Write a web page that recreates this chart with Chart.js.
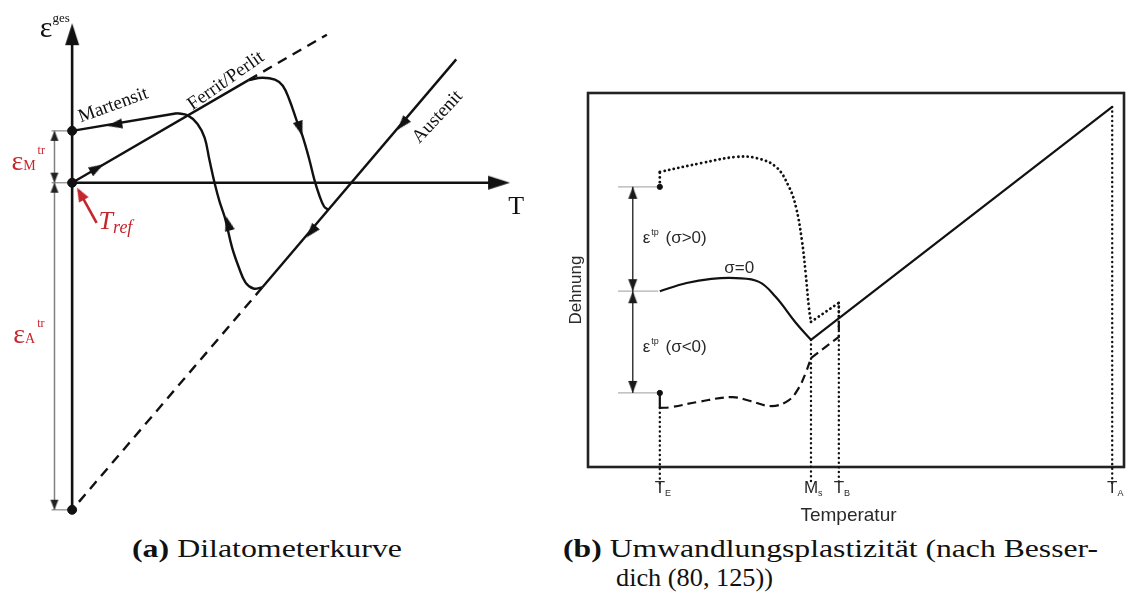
<!DOCTYPE html>
<html lang="de">
<head>
<meta charset="utf-8">
<title>Dilatometerkurve / Umwandlungsplastizität</title>
<script src="https://cdn.jsdelivr.net/npm/chart.js@4.4.1/dist/chart.umd.min.js"></script>
<style>
    html, body { margin: 0; padding: 0; background: #fff; }
    body { width: 1129px; height: 604px; position: relative; overflow: hidden; }
    #chart-a { position: absolute; left: 0; top: 0; }
    #chart-b { position: absolute; left: 550px; top: 0; }
    .caption { position: absolute; font-family: "Liberation Serif", "Times New Roman", serif; font-size: 25px; line-height: 29px;
               color: #111; white-space: nowrap; transform-origin: 0 0; }
    #cap-a { left: 132px; top: 534px; }
    #cap-b1 { left: 563px; top: 534px; }
    #cap-b2 { left: 616px; top: 563px; }
</style>
</head>
<body>
<canvas id="chart-a" width="545" height="530"></canvas>
<canvas id="chart-b" width="579" height="530"></canvas>
<div class="caption" id="cap-a"><b>(a)</b> Dilatometerkurve</div>
<div class="caption" id="cap-b1"><b>(b)</b> Umwandlungsplastizität (nach Besser-</div>
<div class="caption" id="cap-b2">dich (80, 125))</div>
<script>
// ---------- (a) Dilatometerkurve: T on x, total strain on y, T_ref at origin ----------
const ferritLine = [[0, 0], [4.5, 2.62]];
const ferritExtension = [[4.5, 2.62], [6.5, 3.78]];
const heatingCurve = [[4.5, 2.62], [4.85, 2.68], [5.175, 2.63], [5.375, 2.475], [5.55, 2.1], [5.725, 1.6],
    [5.875, 1.2], [6.05, 0.6], [6.175, 0.1], [6.3, -0.3], [6.425, -0.6], [6.53, -0.69]];
const austenitLine = [[9.8, 3.15], [4.85, -2.675]];
const austenitExtension = [[4.85, -2.675], [0, -8.35]];
const coolingCurve = [[2.675, 1.775], [2.95, 1.72], [3.2, 1.5], [3.38, 1.15], [3.5, 0.6], [3.64, -0.025],
    [3.76, -0.475], [3.9, -0.9], [4.08, -1.65], [4.25, -2.15], [4.425, -2.55], [4.625, -2.7], [4.85, -2.675]];
const martensitLine = [[2.675, 1.775], [0, 1.325]];
const strainAxisA = [[0, -8.425], [0, 3.7]];
const tempAxisA = [[0, 0], [10.8, 0]];
const axisTipsA = [[0, 4.075, 0, 1], [11.175, 0, 1, 0]];
// ε_M^tr and ε_A^tr marks on the strain axis
const epsLevelsA = [1.325, 0, -8.35];
const dimXA = -0.45;
// arrow heads along the curves: x, y, dx, dy
const flowArrows = [[0.8, 0.47, 1, 0.582], [0.9, 1.45, -1, -0.168], [5.875, 1.2, 0.325, -1.0],
    [3.925, -0.85, -0.32, 1.175], [8.3, 1.35, -1, -1.177], [5.975, -1.4, -1, -1.177]];
const trefArrow = [[0.625, -1.025], [0.17, -0.2]];
const trefTip = [[0.125, -0.125, -0.5, 0.9]];

// ---------- (b) Umwandlungsplastizität: Temperatur 0..100, Dehnung 0..100 ----------
const tempTicks = [13.4, 41.6, 46.8, 97.8];
const tempTickLabels = [['T', 'E'], ['M', 's'], ['T', 'B'], ['T', 'A']];
const tickLineTops = [15.8, 34, 43.9, 96.3];
const sigmaZeroCurve = [[13.4, 47], [18.4, 49.2], [23, 50.3], [27.6, 50.5], [31.9, 49.5], [35, 45.5], [38.8, 38.5], [41.6, 34]];
const sigmaZeroLine = [[41.6, 34], [97.8, 96.3]];
const sigmaPosStart = [[13.4, 74.9], [13.4, 78.9]];
const sigmaPosCurve = [[13.4, 78.9], [21.3, 81.3], [27.6, 82.9], [31.4, 82.6], [35.1, 80.2], [37.5, 74.9],
    [38.8, 69.5], [39.9, 60.7], [40.6, 51.9], [41.2, 42.8], [41.6, 38.8]];
const sigmaPosTail = [[41.6, 38.8], [46.8, 43.9], [46.8, 39.8]];
const sigmaNegStart = [[13.4, 19.8], [13.4, 15.8]];
const sigmaNegCurve = [[13.4, 15.8], [15.5, 16.0], [20.5, 17.4], [26.9, 18.7], [30.1, 17.7], [34.3, 16.3],
    [37.5, 17.9], [39.3, 21.1], [40.6, 25.1], [41.6, 29.1]];
const sigmaNegTail = [[41.6, 29.1], [46.8, 34.8], [46.8, 39.8]];
const epsLevelsB = [74.9, 47, 19.8];
const dimXB = 8.35;
const tickBottomB = -4.8;

const INK = '#111';
const RED = '#c4262e';
const SERIF = '"Liberation Serif", "Times New Roman", serif';
const SANS = '"Liberation Sans", Arial, sans-serif';

// Helpers
const pts = arr => arr.map(([x, y]) => ({ x, y }));

function lineSet(data, opts) {
    return Object.assign({
        data: pts(data), showLine: true, pointRadius: 0, borderColor: INK,
        borderWidth: 2.4, tension: 0, clip: false, fill: false
    }, opts);
}

function arrowHead(len, wid, color) {
    const c = document.createElement('canvas');
    c.width = Math.ceil(wid) + 2;
    c.height = Math.ceil(len) * 2 + 2;
    const g = c.getContext('2d');
    const cx = c.width / 2, cy = c.height / 2;
    g.fillStyle = color;
    g.beginPath();
    g.moveTo(cx, cy);
    g.lineTo(cx - wid / 2, cy + len);
    g.lineTo(cx + wid / 2, cy + len);
    g.closePath();
    g.fill();
    return c;
}

function arrowSet(list, head) {
    return {
        data: list.map(a => ({ x: a[0], y: a[1], dx: a[2], dy: a[3] })),
        showLine: false, pointStyle: head, pointRadius: 4, clip: false,
        rotation: ctx => {
            const a = ctx.raw;
            if (!a) return 0;
            const xs = ctx.chart.scales.x, ys = ctx.chart.scales.y;
            const pdx = xs.getPixelForValue(a.x + a.dx) - xs.getPixelForValue(a.x);
            const pdy = ys.getPixelForValue(a.y + a.dy) - ys.getPixelForValue(a.y);
            return Math.atan2(pdx, -pdy) * 180 / Math.PI;
        }
    };
}

function dimArrows(x, levels) {
    const out = [];
    for (let i = 0; i < levels.length - 1; i++) {
        out.push([x, levels[i], 0, 1]);
        out.push([x, levels[i + 1], 0, -1]);
    }
    return out;
}

function drawRich(ctx, x, y, parts, family, color, align) {
    ctx.save();
    ctx.fillStyle = color;
    ctx.textBaseline = 'alphabetic';
    ctx.textAlign = 'left';
    const fontOf = p => `${p.italic ? 'italic ' : ''}${p.size}px ${family}`;
    let total = 0;
    parts.forEach(p => {
        ctx.font = fontOf(p);
        total += (p.dx || 0) + ctx.measureText(p.t).width;
    });
    let cx = x;
    if (align === 'center') cx = x - total / 2;
    if (align === 'first') {
        ctx.font = fontOf(parts[0]);
        cx = x - ctx.measureText(parts[0].t).width / 2;
    }
    parts.forEach(p => {
        ctx.font = fontOf(p);
        cx += p.dx || 0;
        ctx.fillText(p.t, cx, y + (p.dy || 0));
        cx += ctx.measureText(p.t).width;
    });
    ctx.restore();
}

function drawRotated(ctx, text, x, y, angle, font, color) {
    ctx.save();
    ctx.translate(x, y);
    ctx.rotate(angle * Math.PI / 180);
    ctx.font = font;
    ctx.fillStyle = color;
    ctx.textAlign = 'center';
    ctx.textBaseline = 'middle';
    ctx.fillText(text, 0, 0);
    ctx.restore();
}

// ---------- Chart (a) ----------
const labelsA = {
    id: 'labelsA',
    afterDatasetsDraw(chart) {
        const { ctx, scales: { x, y } } = chart;
        const px = v => x.getPixelForValue(v), py = v => y.getPixelForValue(v);
        drawRich(ctx, px(-0.825), py(3.725), [{ t: 'ε', size: 30 }, { t: 'ges', size: 13, dy: -15 }], SERIF, INK);
        drawRich(ctx, px(11.125), py(-0.8), [{ t: 'T', size: 26 }], SERIF, INK);
        drawRotated(ctx, 'Martensit', px(1.05), py(1.975), -20, `19px ${SERIF}`, INK);
        drawRotated(ctx, 'Ferrit/Perlit', px(3.925), py(2.6), -35, `19px ${SERIF}`, INK);
        drawRotated(ctx, 'Austenit', px(9.325), py(1.675), -47, `19px ${SERIF}`, INK);
        drawRich(ctx, px(-1.55), py(0.325), [{ t: 'ε', size: 28 }, { t: 'M', size: 14 }, { t: 'tr', size: 12, dy: -16, dx: 2 }], SERIF, RED);
        drawRich(ctx, px(-1.5), py(-4.1), [{ t: 'ε', size: 28 }, { t: 'A', size: 14 }, { t: 'tr', size: 12, dy: -16, dx: 2 }], SERIF, RED);
        drawRich(ctx, px(0.675), py(-1.175), [{ t: 'T', size: 26, italic: true }, { t: 'ref', size: 18, italic: true, dy: 4 }], SERIF, RED);
    }
};

const datasetsA = [
    arrowSet(axisTipsA, arrowHead(22, 14, INK)),
    arrowSet(flowArrows, arrowHead(15, 10, INK)),
    arrowSet(dimArrows(dimXA, epsLevelsA), arrowHead(10, 8, '#222')),
    arrowSet(trefTip, arrowHead(14, 11, RED)),
    { data: pts([[0, 0], [0, 1.325], [0, -8.35]]), showLine: false, pointRadius: 4.5, backgroundColor: INK, borderColor: INK, clip: false },
    lineSet(trefArrow, { borderColor: RED, borderWidth: 2.6 }),
    lineSet(strainAxisA, { borderWidth: 2.6 }),
    lineSet(tempAxisA, { borderWidth: 2.6 }),
    lineSet(ferritLine),
    lineSet(ferritExtension, { borderDash: [10, 7] }),
    lineSet(heatingCurve, { tension: 0.4 }),
    lineSet(austenitLine),
    lineSet(austenitExtension, { borderDash: [10, 7] }),
    lineSet(coolingCurve, { tension: 0.4 }),
    lineSet(martensitLine),
    lineSet([[dimXA, epsLevelsA[0]], [dimXA, epsLevelsA[epsLevelsA.length - 1]]], { borderColor: '#808080', borderWidth: 1.5 })
].concat(epsLevelsA.map(v => lineSet([[-0.525, v], [0, v]], { borderColor: '#909090', borderWidth: 1.3 })));

new Chart(document.getElementById('chart-a'), {
    type: 'scatter',
    data: { datasets: datasetsA },
    options: {
        responsive: false,
        animation: false,
        events: [],
        layout: { padding: 0 },
        scales: {
            x: { type: 'linear', min: -1.7, max: 11.925, display: false },
            y: { type: 'linear', min: -8.725, max: 4.525, display: false }
        },
        plugins: { legend: { display: false }, tooltip: { enabled: false } }
    },
    plugins: [labelsA]
});

// ---------- Chart (b) ----------
const frameB = {
    id: 'frameB',
    beforeDatasetsDraw(chart) {
        const { ctx, chartArea: a } = chart;
        ctx.save();
        ctx.strokeStyle = '#222';
        ctx.lineWidth = 2.6;
        ctx.strokeRect(a.left, a.top, a.right - a.left, a.bottom - a.top);
        ctx.restore();
    },
    afterDatasetsDraw(chart) {
        const { ctx, scales: { x, y } } = chart;
        const px = v => x.getPixelForValue(v), py = v => y.getPixelForValue(v);
        const TXT = '#2a2a2a';
        drawRich(ctx, px(10.2), py(59.9), [{ t: 'ε', size: 17 }, { t: 'tp', size: 9, dy: -8, dx: 1 }, { t: ' (σ>0)', size: 17, dx: 2 }], SANS, TXT);
        drawRich(ctx, px(28.2), py(51.9), [{ t: 'σ=0', size: 17 }], SANS, TXT, 'center');
        drawRich(ctx, px(10.2), py(30.75), [{ t: 'ε', size: 17 }, { t: 'tp', size: 9, dy: -8, dx: 1 }, { t: ' (σ<0)', size: 17, dx: 2 }], SANS, TXT);
        drawRotated(ctx, 'Dehnung', px(-2.2), py(47.3), -90, `17px ${SANS}`, TXT);
        drawRich(ctx, px(48.6), py(-14.4), [{ t: 'Temperatur', size: 19 }], SANS, TXT, 'center');
        tempTicks.forEach((v, i) => {
            const [main, sub] = tempTickLabels[i];
            drawRich(ctx, px(v), py(-6.95), [{ t: main, size: 17 }, { t: sub, size: 9, dy: 3 }], SANS, TXT, 'first');
        });
    }
};

const dotted = { borderDash: [0.1, 4.6], borderCapStyle: 'round', borderWidth: 2.8 };

const datasetsB = [
    arrowSet(dimArrows(dimXB, epsLevelsB), arrowHead(12, 9, '#1a1a1a')),
    { data: pts([sigmaPosStart[0], sigmaNegStart[0]]), showLine: false, pointRadius: 2.6, backgroundColor: INK, borderColor: INK, clip: false },
    lineSet(sigmaZeroCurve, { tension: 0.4, borderWidth: 2.2 }),
    lineSet(sigmaZeroLine, { borderWidth: 2.2 }),
    lineSet(sigmaPosStart, dotted),
    lineSet(sigmaPosCurve, Object.assign({ tension: 0.4 }, dotted)),
    lineSet(sigmaPosTail, dotted),
    lineSet(sigmaNegStart, { borderWidth: 2.2 }),
    lineSet(sigmaNegCurve, { tension: 0.4, borderWidth: 2.2, borderDash: [9, 5] }),
    lineSet(sigmaNegTail, { borderWidth: 2.2, borderDash: [9, 5] }),
    lineSet([[dimXB, epsLevelsB[0]], [dimXB, epsLevelsB[epsLevelsB.length - 1]]], { borderColor: '#3a3a3a', borderWidth: 1.5 })
].concat(
    epsLevelsB.map(v => lineSet([[5.6, v], [13.1, v]], { borderColor: '#b0b0b0', borderWidth: 1.3 })),
    tempTicks.map((v, i) => lineSet([[v, tickLineTops[i]], [v, tickBottomB]], Object.assign({}, dotted, { borderWidth: 2.4 })))
);

new Chart(document.getElementById('chart-b'), {
    type: 'scatter',
    data: { datasets: datasetsB },
    options: {
        responsive: false,
        animation: false,
        events: [],
        layout: { padding: { left: 38, right: 2, top: 93, bottom: 63 } },
        scales: {
            x: { type: 'linear', min: 0, max: 100, display: false },
            y: { type: 'linear', min: 0, max: 100, display: false }
        },
        plugins: { legend: { display: false }, tooltip: { enabled: false } }
    },
    plugins: [frameB]
});

// Captions: the original is set in a wide Computer Modern, stretch to its line widths
function fitCaption(id, width) {
    const el = document.getElementById(id);
    el.style.transform = 'none';
    const w = el.getBoundingClientRect().width;
    el.style.transform = `scaleX(${width / w})`;
}
function fitCaptions() {
    fitCaption('cap-a', 270);
    fitCaption('cap-b1', 535);
    fitCaption('cap-b2', 157);
}
fitCaptions();
if (document.fonts) document.fonts.ready.then(fitCaptions);
</script>
</body>
</html>
